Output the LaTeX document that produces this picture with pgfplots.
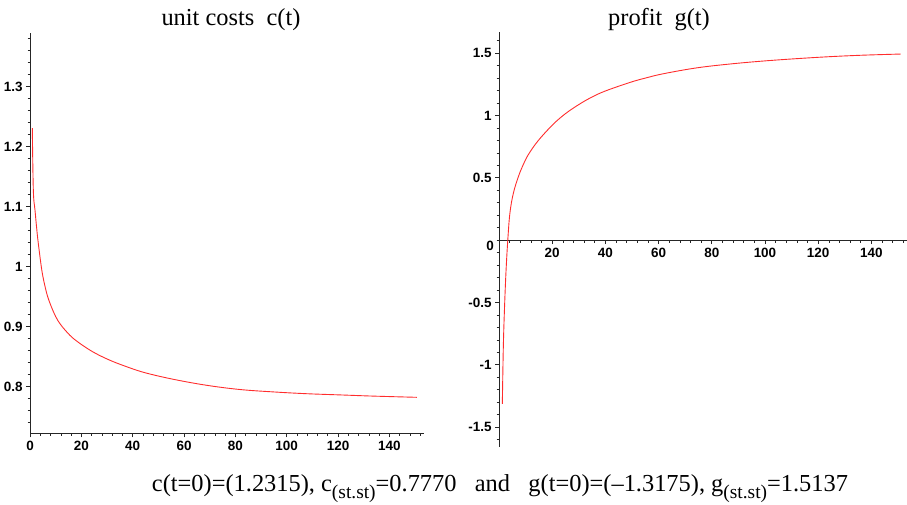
\documentclass[border=0pt]{standalone}
\usepackage{pgfplots}
\pgfplotsset{compat=1.18}
\usepackage{fontspec}
\setmainfont{Liberation Serif}
\newfontfamily\tickfont{Liberation Sans}
\definecolor{curve}{RGB}{255,45,45}

\pgfplotstableread{
t c
0.9 1.231
1.3 1.127
1.95 1.094
2.6 1.064
3.2 1.040
4.6 0.994
5.85 0.967
7.1 0.947
9.1 0.925
11 0.909
13.9 0.893
17.5 0.878
24 0.859
30.5 0.845
37 0.834
44.8 0.823
55.9 0.812
68.9 0.802
81.8 0.795
94.8 0.791
107.8 0.788
120.8 0.786
133.8 0.784
150.7 0.782
}\costtable

\pgfplotstableread{
t g
1.25 -1.314
1.6 -0.88
2.0 -0.586
2.6 -0.265
3.3 0
4.1 0.217
5.4 0.377
7.3 0.51
9 0.60
11 0.685
14.8 0.800
20.4 0.930
25 1.015
29.8 1.085
34.5 1.143
39.8 1.195
49.2 1.265
55 1.300
61.8 1.335
74.3 1.382
86.8 1.413
99.4 1.437
111.9 1.456
124.4 1.472
137 1.484
151 1.493
}\profittable

\newcommand\sub[1]{\raisebox{-0.28em}{\fontsize{19.5}{20}\selectfont #1}}
\newcommand\tfont{\tickfont\bfseries\fontsize{13.5}{14}\selectfont}

\begin{document}
\begin{tikzpicture}[x=1bp,y=1bp]
\path[use as bounding box] (0,0) rectangle (907,505);
\pgfplotsset{
  maple/.style={
    scale only axis,
    /pgf/number format/assume math mode=true,
    tick label style={font=\tfont},
    axis line style={-, black!85, line width=0.8bp},
    every tick/.style={black!85, line width=0.6bp},
    major tick length=4bp,
    minor tick length=2.5bp,
    tick align=outside,
  }
}
% left: unit costs
\begin{axis}[maple,
  at={(30bp,71.7bp)}, anchor=south west,
  width=394bp, height=400.6bp,
  xmin=0, xmax=153.5, ymin=0.722, ymax=1.39,
  axis lines*=left,
  xtick={0,20,40,60,80,100,120,140},
  ytick={0.8,0.9,1,1.1,1.2,1.3},
  minor xtick={4,8,...,152},
  minor ytick={0.74,0.76,...,1.385},
]
\addplot[curve, line width=0.9bp, smooth, tension=0.6] table[x=t,y=c] {\costtable};
\end{axis}
% right: profit
\begin{axis}[maple,
  at={(499bp,58bp)}, anchor=south west,
  width=408bp, height=415bp,
  xmin=0, xmax=153.4, ymin=-1.66, ymax=1.67,
  axis lines*=middle,
  clip=false,
  xtick={20,40,60,80,100,120,140},
  ytick={-1.5,-1,-0.5,0.5,1,1.5},
  minor xtick={4,8,...,152},
  minor ytick={-1.6,-1.5,...,1.65},
]
\addplot[curve, line width=0.9bp, smooth, tension=0.6] table[x=t,y=g] {\profittable};
\node[anchor=east, font=\tfont, inner sep=0pt] at (axis cs:0,0) [xshift=-5bp, yshift=-6bp] {0};
\end{axis}
% titles
\node[anchor=base, font=\fontsize{24.5}{28}\selectfont] at (231,479.4) {unit costs\ \ c(t)};
\node[anchor=base, font=\fontsize{24.5}{28}\selectfont] at (659,479.4) {profit\ \ g(t)};
% bottom line
\node[anchor=base, font=\fontsize{24.5}{28}\selectfont] at (500,13.3)
  {c(t=0)=(1.2315), c\sub{(st.st)}=0.7770\ \ \ and\ \ \ g(t=0)=(–1.3175), g\sub{(st.st)}=1.5137};
\end{tikzpicture}
\end{document}
